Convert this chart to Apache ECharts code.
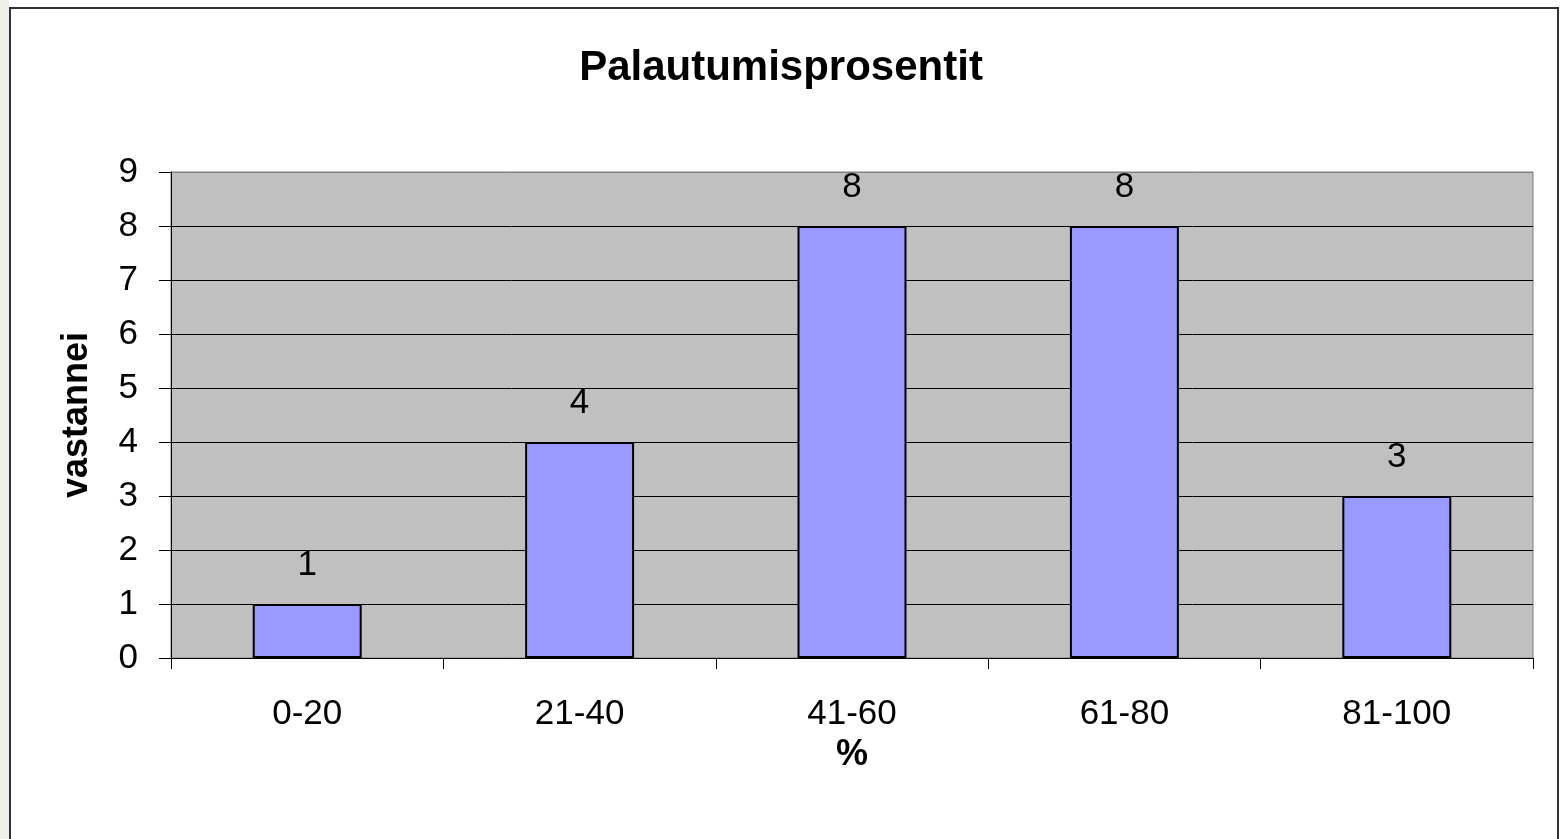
<!DOCTYPE html>
<html>
<head>
<meta charset="utf-8">
<script src="https://cdn.jsdelivr.net/npm/echarts@6/dist/echarts.min.js"></script>
<style>
html,body{margin:0;padding:0;background:#fff;}
#c{width:1562px;height:839px;}
</style>
</head>
<body>
<div id="c"></div>
<script>
const titleText = 'Palautumisprosentit';
const categories = ['0-20', '21-40', '41-60', '61-80', '81-100'];
const values = [1, 4, 8, 8, 3];
const yName = 'vastannei';
const xName = '%';
const yMin = 0, yMax = 9, yStep = 1;

const FONT = "'Liberation Sans', Arial, sans-serif";
const chart = echarts.init(document.getElementById('c'), null, {renderer: 'canvas'});
const splitColors = [];
for (let v = yMin; v <= yMax; v += yStep) splitColors.push(v === yMax ? '#808080' : '#000000');

chart.setOption({
  animation: false,
  backgroundColor: '#ffffff',
  title: {
    text: titleText,
    left: 'center',
    top: 42,
    textStyle: {fontFamily: FONT, fontSize: 42, fontWeight: 'bold', color: '#000'}
  },
  graphic: [
    {type: 'rect', shape: {x: 0, y: 0, width: 9, height: 839}, style: {fill: '#f0efeb'}, silent: true},
    {type: 'rect', shape: {x: 10, y: 8, width: 1548, height: 850}, style: {fill: null, stroke: '#333', lineWidth: 2}, silent: true}
  ],
  grid: {
    left: 171, right: 29, top: 172, bottom: 181,
    show: true, backgroundColor: '#C0C0C0', borderColor: '#808080', borderWidth: 1
  },
  xAxis: {
    type: 'category',
    data: categories,
    name: xName,
    nameLocation: 'middle',
    nameGap: 74,
    nameTextStyle: {fontFamily: FONT, fontSize: 36, fontWeight: 'bold', color: '#000'},
    axisLine: {lineStyle: {color: '#000', width: 1}},
    axisTick: {show: true, length: 11, lineStyle: {color: '#000'}},
    axisLabel: {fontFamily: FONT, fontSize: 35, color: '#000', margin: 39}
  },
  yAxis: {
    type: 'value',
    min: yMin, max: yMax, interval: yStep,
    name: yName,
    nameLocation: 'middle',
    nameGap: 76,
    nameTextStyle: {fontFamily: FONT, fontSize: 36, fontWeight: 'bold', color: '#000'},
    axisLine: {show: true, lineStyle: {color: '#000', width: 1}},
    axisTick: {show: true, length: 12, lineStyle: {color: '#000'}},
    axisLabel: {fontFamily: FONT, fontSize: 35, color: '#000', margin: 33},
    splitLine: {show: true, lineStyle: {color: splitColors, width: 1}}
  },
  series: [{
    type: 'bar',
    data: values,
    barWidth: '40%',
    itemStyle: {color: '#9999FF', borderColor: '#000', borderWidth: 2},
    label: {show: true, position: 'top', distance: 21, fontFamily: FONT, fontSize: 35, color: '#000'}
  }]
});
</script>
</body>
</html>
